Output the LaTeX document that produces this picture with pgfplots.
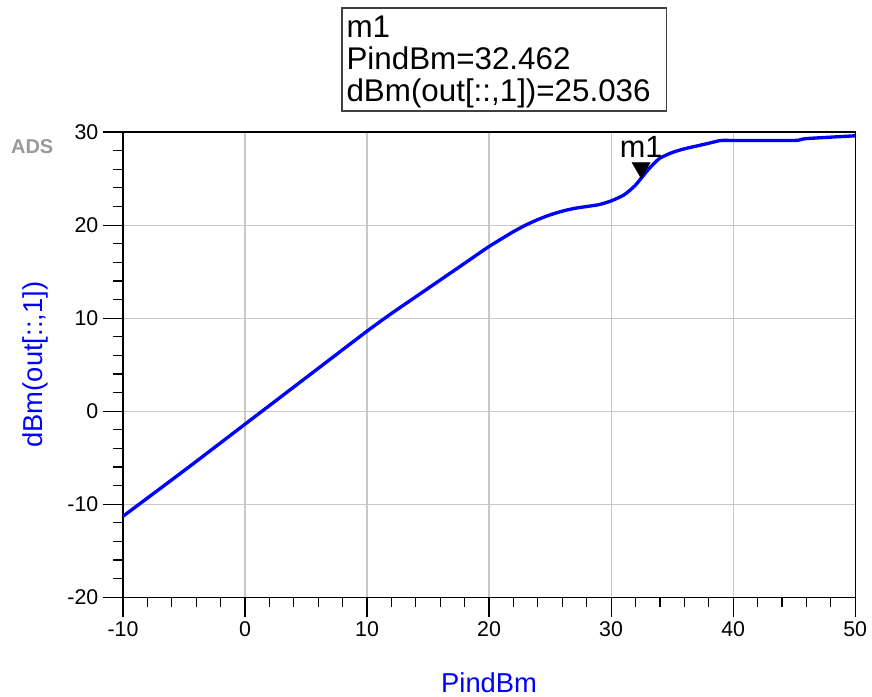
\documentclass[border=0pt]{standalone}
\usepackage{fontspec}
\setmainfont{Liberation Sans}
\usepackage{pgfplots}
\pgfplotsset{compat=1.18}
\definecolor{adsblue}{RGB}{0,0,255}
\definecolor{gridgray}{RGB}{200,200,200}

\begin{document}
\begin{tikzpicture}
\begin{axis}[
 scale only axis,width=549pt,height=348.75pt,
 xmin=-10,xmax=50,ymin=-20,ymax=30,
 xtick={-10,0,...,50},ytick={-20,-10,...,30},
 minor x tick num=4,minor y tick num=4,
 tick align=outside,xtick pos=left,ytick pos=left,
 major tick length=15pt,minor tick length=7.5pt,
 every tick/.style={black,line width=0.9pt},
 axis line style={black,line width=0.9pt},
 grid=major,grid style={gridgray,line width=0.9pt},
 tick label style={font=\fontsize{16}{19}\selectfont},
 /pgf/number format/assume math mode=true,
 xlabel={PindBm},ylabel={dBm(out[::,1])},
 label style={font=\fontsize{20.5}{24}\selectfont,text=adsblue},
 xlabel style={at={(rel axis cs:0.5,-0.183)},anchor=center},
 ylabel style={at={(rel axis cs:-0.120,0.5)},anchor=center},
 clip=false,
]
\addplot[adsblue,line width=2.5pt,smooth,tension=0.4] coordinates {
 (-10,-11.3) (-5,-6.4) (0,-1.4) (5,3.6) (10,8.6) (12,10.5) (14,12.3)
 (16,14.1) (18,15.9) (20,17.7) (22,19.3) (23,20.0) (24,20.6) (25,21.1)
 (26,21.5) (27,21.8) (28,22.0) (29,22.2) (30,22.6) (31,23.2) (31.5,23.7)
 (32,24.3) (32.462,25.036) (33,25.9) (33.5,26.6) (34,27.2) (35,27.8)
 (36,28.2) (37,28.5) (38,28.8) (39,29.1) (40,29.1) (45,29.1) (46,29.3) (50,29.6)};
\addplot[only marks,mark=triangle*,mark size=7.8pt,
 mark options={black,fill=black,yshift=7.8pt,rotate=180}] coordinates {(32.462,25.036)};
\node[anchor=base,font=\fontsize{23}{26}\selectfont] at (axis cs:32.462,25.036) [yshift=15.5pt] {m1};
\draw[black!75,line width=1.1pt] (rel axis cs:0.299,1.045) rectangle (rel axis cs:0.742,1.267);
\node[anchor=base west,inner sep=0pt,font=\fontsize{23.5}{26}\selectfont] at (rel axis cs:0.305,1.204) {m1};
\node[anchor=base west,inner sep=0pt,font=\fontsize{23.5}{26}\selectfont] at (rel axis cs:0.305,1.134) {PindBm=32.462};
\node[anchor=base west,inner sep=0pt,font=\fontsize{23.5}{26}\selectfont] at (rel axis cs:0.305,1.065) {dBm(out[::,1])=25.036};
\node[font=\fontsize{15}{17}\selectfont\bfseries,text=black!40] at (rel axis cs:-0.124,0.968) {ADS};
\coordinate (bl) at (rel axis cs:-0.168,-0.211);
\coordinate (tr) at (rel axis cs:1.023,1.284);
\end{axis}
\useasboundingbox (bl) rectangle (tr);
\end{tikzpicture}
\end{document}
